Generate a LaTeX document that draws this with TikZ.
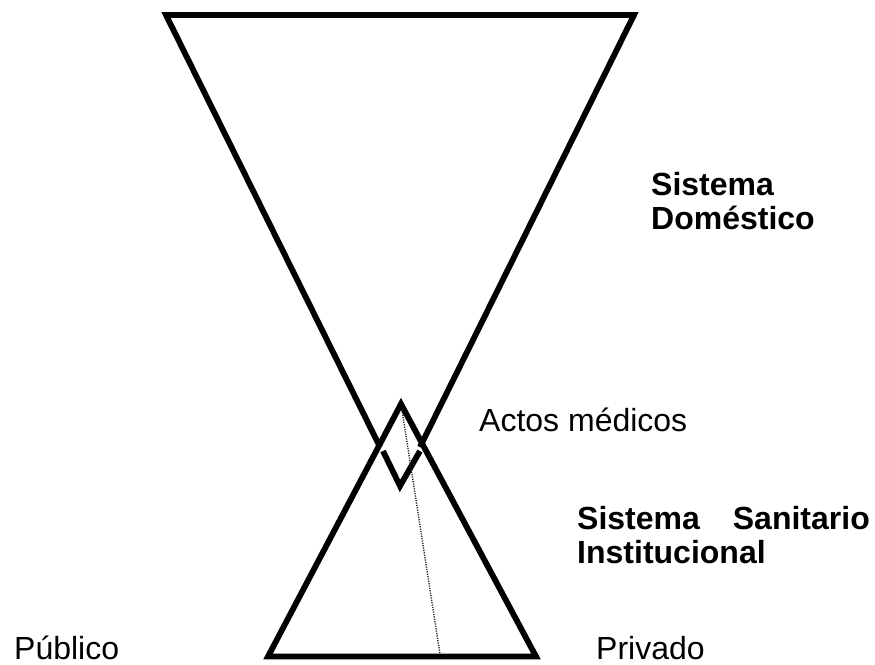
\documentclass[tikz,border=0pt]{standalone}
\usepackage{fontspec}
\setmainfont{Liberation Sans}
\begin{document}
\begin{tikzpicture}[x=1pt,y=-1pt,
  heavy/.style={line width=5.8pt, line join=miter, line cap=butt},
  thinrule/.style={line width=1.4pt, dash pattern=on 1.2pt off 1.2pt, black!85},
  lbl/.style={inner sep=0pt, anchor=base west, font=\fontsize{32}{36}\selectfont},
  blbl/.style={inner sep=0pt, anchor=base west, font=\fontsize{32}{36}\selectfont\bfseries}]
\useasboundingbox (0,0) rectangle (875,664);
% inverted triangle (domestic system)
\coordinate (TL) at (166,15);
\coordinate (TR) at (634,15);
\coordinate (L1) at (380,447);
\coordinate (R1) at (420,447);
\draw[heavy] (L1) -- (TL) -- (TR) -- (R1);
% V tip
\coordinate (VL) at (383,451);
\coordinate (VB) at (400,486);
\coordinate (VR) at (420,451);
\draw[heavy] (VL) -- (VB) -- (VR);
% upright triangle (institutional system)
\coordinate (A) at (401,404);
\coordinate (BL) at (268,656.5);
\coordinate (BR) at (536,656.5);
\draw[heavy] (A) -- (BL) -- (BR) -- cycle;
% dotted divider
\coordinate (D1) at (402,410);
\coordinate (D2) at (440,654);
\draw[thinrule] (D1) -- (D2);
% labels
\node[blbl] (sd1) at (651,195) {Sistema};
\node[blbl] (sd2) at (651,229) {Doméstico};
\node[lbl] (am) at (479,431) {Actos médicos};
\node[blbl] (ss1) at (577,529) {Sistema};
\node[blbl, anchor=base east] (ss2) at (870,529) {Sanitario};
\node[blbl] (ss3) at (577,563) {Institucional};
\node[lbl] (pu) at (14,659) {Público};
\node[lbl] (pr) at (596,659) {Privado};
\end{tikzpicture}
\end{document}
